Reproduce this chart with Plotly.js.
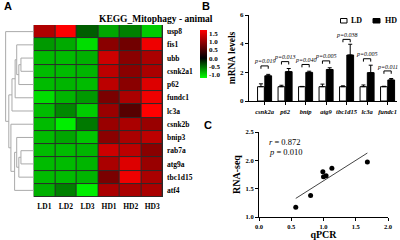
<!DOCTYPE html>
<html><head><meta charset="utf-8">
<script src="https://cdn.plot.ly/plotly-3.0.1.min.js"></script>
<style>html,body{margin:0;padding:0;background:#fff}#chart{width:400px;height:240px}</style>
</head><body><div id="chart"></div>
<script>
// ---------- Panel A: heatmap data ----------
const samples = ['LD1','LD2','LD3','HD1','HD2','HD3'];
const genes = ['usp8','fis1','ubb','csnk2a1','p62','fundc1','lc3a','csnk2b','bnip3','rab7a','atg9a','tbc1d15','atf4'];
const heatUsp8    = [ 1.17,  1.70, -0.44, -0.78, -0.60, -0.96];
const heatFis1    = [-0.72, -0.80, -1.04,  0.92,  0.75,  1.59];
const heatUbb     = [-0.88, -0.88, -0.83,  1.36,  0.91,  1.13];
const heatCsnk2a1 = [-0.88, -0.88, -0.85,  1.25,  0.92,  1.13];
const heatP62     = [-0.88, -0.85, -0.88,  1.25,  0.92,  1.47];
const heatFundc1  = [-1.04, -0.85, -0.72,  0.81,  1.13,  1.59];
const heatLc3a    = [-0.88, -0.64, -0.96,  1.02,  0.57,  1.70];
const heatCsnk2b  = [-0.88, -1.12, -0.57,  1.02,  1.13,  1.02];
const heatBnip3   = [-0.88, -0.78, -0.93,  0.92,  1.13,  1.25];
const heatRab7a   = [-0.88, -0.88, -0.85,  1.36,  1.25,  0.91];
const heatAtg9a   = [-0.88, -0.88, -0.85,  1.13,  1.47,  1.02];
const heatTbc1d15 = [-0.88, -0.88, -0.85,  0.81,  1.59,  1.13];
const heatAtf4    = [-0.83, -0.60, -1.12,  1.13,  1.13,  1.13];
// hierarchical clustering of rows: [childA, childB, height]; ids >= 13 are earlier merges
const rowLinkage = [
  [2, 3, 12], [13, 4, 14], [1, 14, 16], [15, 5, 17.5], [16, 6, 20.5],
  [9, 10, 12], [18, 11, 14], [8, 19, 16], [20, 12, 18], [7, 21, 21.5],
  [17, 22, 23.5], [0, 23, 26.5]
];
const colorTicks = [-1.0, -0.5, 0.0, 0.5, 1.0, 1.5];
const zMin = -1.2, zMax = 1.7;

// ---------- Panel B: bar data ----------
const barGenes = ['csnk2a','p62','bnip','atg9','tbc1d15','lc3a','fundc1'];
const ldMean = [1.00, 1.00, 1.00, 1.00, 1.00, 1.00, 1.00];
const ldErr  = [0.20, 0.10, 0.02, 0.18, 0.06, 0.12, 0.03];
const hdMean = [1.76, 2.05, 2.00, 2.20, 3.21, 1.98, 1.47];
const hdErr  = [0.10, 0.22, 0.08, 0.12, 0.75, 0.52, 0.10];
const pValues = ['0.019','0.013','0.040','0.005','0.038','0.005','0.011'];
const bracketY = [2.45, 2.75, 2.55, 2.80, 4.30, 2.95, 2.10];

// ---------- Panel C: correlation data ----------
const qpcr   = [0.57, 0.80, 0.99, 1.00, 1.04, 1.13, 1.68];
const rnaseq = [1.17, 1.38, 1.80, 1.71, 1.73, 1.86, 1.97];
const corrR = '0.872', corrP = '0.010';

// ---------- build ----------
const SERIF = 'Liberation Serif, Times New Roman, serif';
const SANS = 'Liberation Sans, Arial, sans-serif';
const heat = [heatUsp8, heatFis1, heatUbb, heatCsnk2a1, heatP62, heatFundc1, heatLc3a,
              heatCsnk2b, heatBnip3, heatRab7a, heatAtg9a, heatTbc1d15, heatAtf4];
const rowIdx = genes.map((g, i) => i);
const barIdx = barGenes.map((g, i) => i);
const zeroFrac = (0 - zMin) / (zMax - zMin);

// dendrogram lines from linkage
const nodes = rowIdx.map(i => ({y: i, h: 0}));
const dx = [], dy = [];
rowLinkage.forEach(([a, b, h]) => {
  const A = nodes[a], B = nodes[b];
  dx.push(A.h, h, h, B.h, null);
  dy.push(A.y, A.y, B.y, B.y, null);
  nodes.push({y: (A.y + B.y) / 2, h: h});
});
const maxH = Math.max(...rowLinkage.map(r => r[2]));

// bar geometry
const bargap = 0.29, bargroupgap = 0.07;
const off = (1 - bargap) / 4;
const bx = [], by = [];
const foot = 0.2;
bracketY.forEach((yv, i) => {
  bx.push(i - off, i - off, i + off, i + off, null);
  by.push(yv - foot, yv, yv, yv - foot, null);
});

// regression
const n = qpcr.length;
const mx = qpcr.reduce((s, v) => s + v, 0) / n;
const my = rnaseq.reduce((s, v) => s + v, 0) / n;
let sxy = 0, sxx = 0;
for (let i = 0; i < n; i++) { sxy += (qpcr[i] - mx) * (rnaseq[i] - my); sxx += (qpcr[i] - mx) ** 2; }
const slope = sxy / sxx, icpt = my - slope * mx;
const xmin = Math.min(...qpcr), xmax = Math.max(...qpcr);

const traces = [
  {type: 'heatmap', x: samples, y: rowIdx, z: heat, xaxis: 'x', yaxis: 'y',
   zmin: zMin, zmax: zMax, xgap: 1, ygap: 1,
   colorscale: [[0, '#00ff00'], [zeroFrac, '#000000'], [1, '#ff0000']],
   colorbar: {x: 0.5, xanchor: 'left', y: 0.775, yanchor: 'middle', len: 48, lenmode: 'pixels',
              thickness: 7, outlinewidth: 0, xpad: 0, ypad: 0, ticks: '',
              tickvals: colorTicks, ticktext: colorTicks.map(v => v.toFixed(1)),
              tickfont: {family: SERIF, size: 7, weight: 'bold', color: '#000'}}},
  {type: 'scatter', mode: 'lines', x: dx, y: dy, xaxis: 'x2', yaxis: 'y',
   line: {color: '#aaaaaa', width: 1}, hoverinfo: 'skip'},
  {type: 'bar', name: 'LD', x: barIdx, y: ldMean, xaxis: 'x3', yaxis: 'y3',
   marker: {color: '#ffffff', line: {color: '#000', width: 1}},
   error_y: {type: 'data', array: ldErr, arrayminus: ldErr.map(() => 0), symmetric: false, color: '#000', thickness: 1, width: 2}},
  {type: 'bar', name: 'HD', x: barIdx, y: hdMean, xaxis: 'x3', yaxis: 'y3',
   marker: {color: '#000000', line: {color: '#000', width: 1}},
   error_y: {type: 'data', array: hdErr, arrayminus: hdErr.map(() => 0), symmetric: false, color: '#000', thickness: 1, width: 2}},
  {type: 'scatter', mode: 'lines', x: bx, y: by, xaxis: 'x3', yaxis: 'y3',
   line: {color: '#000', width: 1}, hoverinfo: 'skip'},
  {type: 'scatter', mode: 'lines', x: [xmin, xmax], y: [icpt + slope * xmin, icpt + slope * xmax],
   xaxis: 'x4', yaxis: 'y4', line: {color: '#444', width: 1}},
  {type: 'scatter', mode: 'markers', x: qpcr, y: rnaseq, xaxis: 'x4', yaxis: 'y4',
   marker: {color: '#000', size: 5}}
];

const tickF = (s) => ({family: SERIF, size: s, weight: 'bold', color: '#000'});
const annotations = [
  {text: 'KEGG_Mitophagy - animal', xref: 'paper', yref: 'paper', x: 0.2425, y: 1 - 12.3 / 240,
   showarrow: false, font: {family: SERIF, size: 9.5, weight: 'bold', color: '#000'}},
  {text: 'A', xref: 'paper', yref: 'paper', x: 0.004, y: 1 - 6 / 240, xanchor: 'left', yanchor: 'middle',
   showarrow: false, font: {family: SANS, size: 11, weight: 'bold', color: '#000'}},
  {text: 'B', xref: 'paper', yref: 'paper', x: 0.5, y: 1 - 6 / 240, xanchor: 'left', yanchor: 'middle',
   showarrow: false, font: {family: SANS, size: 11, weight: 'bold', color: '#000'}},
  {text: 'C', xref: 'paper', yref: 'paper', x: 0.504, y: 1 - 125 / 240, xanchor: 'left', yanchor: 'middle',
   showarrow: false, font: {family: SANS, size: 11, weight: 'bold', color: '#000'}},
  {text: 'LD', xref: 'paper', yref: 'paper', x: 349 / 400, y: 1 - 20.7 / 240, xanchor: 'left', yanchor: 'middle',
   showarrow: false, font: tickF(8)},
  {text: 'HD', xref: 'paper', yref: 'paper', x: 382.5 / 400, y: 1 - 20.7 / 240, xanchor: 'left', yanchor: 'middle',
   showarrow: false, font: tickF(8)},
  {text: '<i>r</i> = ' + corrR, xref: 'x4', yref: 'y4', x: 0.13, y: 2.32, xanchor: 'left', yanchor: 'middle',
   showarrow: false, font: {family: SERIF, size: 8.5, color: '#000'}},
  {text: '<i>p</i> = ' + corrP, xref: 'x4', yref: 'y4', x: 0.13, y: 2.15, xanchor: 'left', yanchor: 'middle',
   showarrow: false, font: {family: SERIF, size: 8.5, color: '#000'}}
];
pValues.forEach((p, i) => annotations.push({
  text: '<i>p=' + p + '</i>', xref: 'x3', yref: 'y3', x: i, y: bracketY[i] + 0.03, yanchor: 'bottom',
  showarrow: false, font: {family: SERIF, size: 6, color: '#000'}, borderpad: 0
}));

const shapes = [
  {type: 'rect', xref: 'x domain', yref: 'y domain', x0: 0, x1: 1, y0: 0, y1: 1,
   fillcolor: '#2a2a2a', line: {width: 0}, layer: 'below'},
  {type: 'rect', xref: 'paper', yref: 'paper', x0: 340.5 / 400, x1: 347 / 400, y0: 1 - 23 / 240, y1: 1 - 18.5 / 240,
   fillcolor: '#fff', line: {color: '#000', width: 1}},
  {type: 'rect', xref: 'paper', yref: 'paper', x0: 373 / 400, x1: 380 / 400, y0: 1 - 23 / 240, y1: 1 - 18.5 / 240,
   fillcolor: '#000', line: {color: '#000', width: 1}}
];

const layout = {
  width: 400, height: 240, margin: {l: 0, r: 0, t: 0, b: 0},
  paper_bgcolor: '#fff', plot_bgcolor: 'rgba(0,0,0,0)', showlegend: false,
  barmode: 'group', bargap: bargap, bargroupgap: bargroupgap,
  xaxis: {domain: [0.084, 0.4075], anchor: 'y', type: 'category', ticks: '', showgrid: false,
          zeroline: false, showline: false, tickfont: tickF(7.5), ticklabelstandoff: 4},
  yaxis: {domain: [0.1792, 0.8958], anchor: 'x', range: [genes.length - 0.5, -0.5], side: 'right',
          tickvals: rowIdx, ticktext: genes, ticks: '', showgrid: false, zeroline: false,
          tickfont: tickF(7.5), ticklabelstandoff: 3},
  xaxis2: {domain: [0.0125, 0.084], anchor: 'y', range: [maxH + 0.6, 0], visible: false},
  xaxis3: {domain: [0.6225, 0.9925], anchor: 'y3', range: [-0.76, 6.46], tickangle: 0,
           tickvals: barIdx, ticktext: barGenes.map(g => '<i>' + g + '</i>'),
           ticks: 'outside', ticklen: 3, tickcolor: '#000', showline: true, linecolor: '#000', linewidth: 1,
           showgrid: false, zeroline: false, tickfont: tickF(6.5), ticklabelstandoff: 1},
  yaxis3: {domain: [0.579, 0.9375], anchor: 'x3', range: [0, 6], dtick: 2, tick0: 0,
           ticks: 'outside', ticklen: 3, tickcolor: '#000', showline: true, linecolor: '#000', linewidth: 1,
           showgrid: false, zeroline: false, tickfont: tickF(7),
           title: {text: 'mRNA levels', font: tickF(9.5), standoff: 2}},
  xaxis4: {domain: [0.6475, 0.97], anchor: 'y4', range: [0, 2], dtick: 0.5, tick0: 0, tickformat: '.1f',
           ticks: 'outside', ticklen: 3, tickcolor: '#000', showline: true, linecolor: '#000', linewidth: 1,
           showgrid: false, zeroline: false, tickfont: tickF(6.5),
           title: {text: 'qPCR', font: tickF(10), standoff: 1}},
  yaxis4: {domain: [0.0958, 0.45], anchor: 'x4', range: [1, 2.5], dtick: 0.5, tick0: 1, tickformat: '.1f',
           ticks: 'outside', ticklen: 3, tickcolor: '#000', showline: true, linecolor: '#000', linewidth: 1,
           showgrid: false, zeroline: false, tickfont: tickF(6.5),
           title: {text: 'RNA-seq', font: tickF(10), standoff: 3}},
  annotations: annotations, shapes: shapes
};

Plotly.newPlot('chart', traces, layout, {staticPlot: true, displayModeBar: false});
</script>
</body></html>
